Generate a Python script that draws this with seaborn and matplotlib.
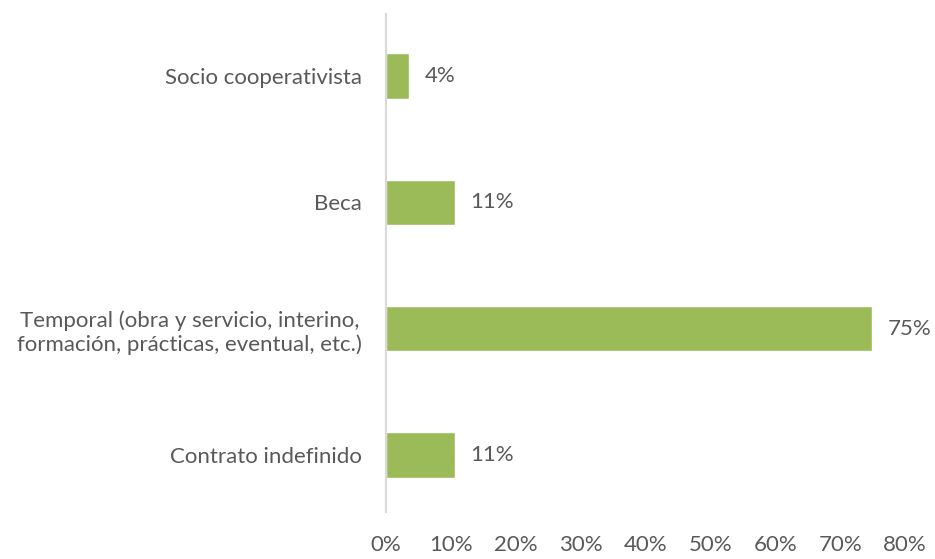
import matplotlib
matplotlib.use("Agg")
import matplotlib.pyplot as plt
import seaborn as sns
import pandas as pd

categorias = [
    "Socio cooperativista",
    "Beca",
    "Temporal (obra y servicio, interino,\nformación, prácticas, eventual, etc.)",
    "Contrato indefinido",
]
porcentajes = [3.6, 10.7, 74.9, 10.7]
ticks_x = [0, 10, 20, 30, 40, 50, 60, 70, 80]

sns.set_theme(style="white")
plt.rcParams["font.family"] = ["Lato", "DejaVu Sans"]

texto = "#595959"
verde = "#9BBB59"
fs = 16

df = pd.DataFrame({"categoria": categorias, "pct": porcentajes})

fig = plt.figure(figsize=(9.35, 5.59), dpi=100)
ax = fig.add_axes([0.4128, 0.0730, 0.968 - 0.4128, 0.9771 - 0.0730])

sns.barplot(data=df, x="pct", y="categoria", color=verde, saturation=1,
            width=0.36, orient="h", ax=ax)

for bar, v in zip(ax.patches, porcentajes):
    ax.annotate(f"{v:.0f}%", (bar.get_width(), bar.get_y() + bar.get_height() / 2),
                xytext=(11, 0), textcoords="offset points", va="center", ha="left",
                fontsize=fs, color=texto)

ax.set_xlim(0, 80)
ax.set_ylim(3.5, -0.5)
ax.set_xticks(ticks_x)
ax.set_xticklabels([f"{t}%" for t in ticks_x])
ax.set_xlabel("")
ax.set_ylabel("")

for s in ["top", "right", "bottom"]:
    ax.spines[s].set_visible(False)
ax.spines["left"].set_color("#D9D9D9")
ax.spines["left"].set_linewidth(1.5)
ax.spines["left"].set_bounds(-0.49, 3.45)

ax.tick_params(axis="x", length=0, pad=12, labelsize=fs, labelcolor=texto)
ax.tick_params(axis="y", length=0, pad=17, labelsize=fs, labelcolor=texto)
for lbl in ax.get_yticklabels():
    lbl.set_multialignment("center")
    lbl.set_linespacing(1.2)

fig.savefig("out.png", dpi=100)
